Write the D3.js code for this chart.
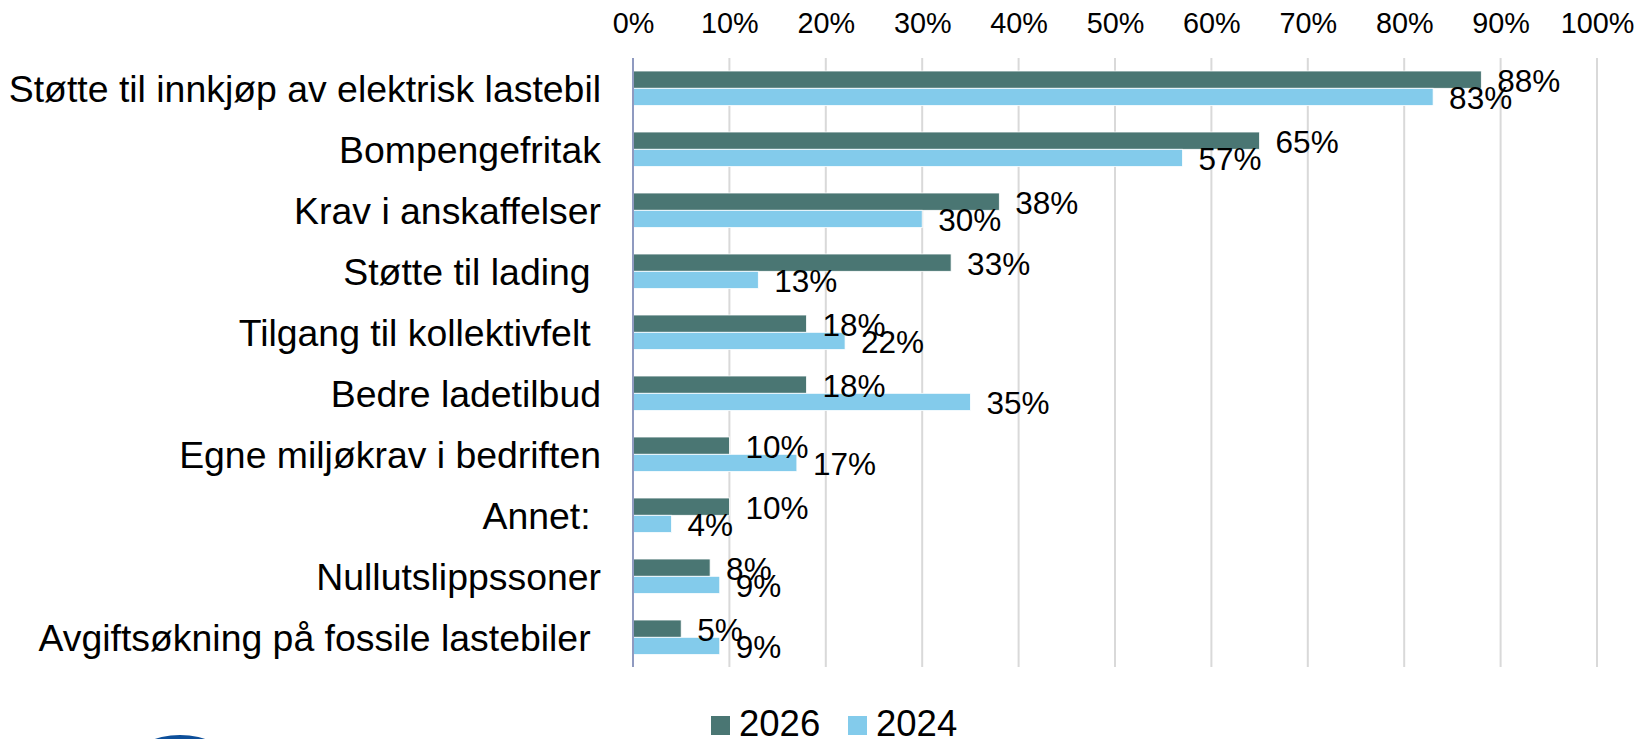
<!DOCTYPE html>
<html>
<head>
<meta charset="utf-8">
<script src="https://cdn.jsdelivr.net/npm/d3@7/dist/d3.min.js"></script>
<style>
  html, body { margin: 0; padding: 0; background: #ffffff; }
  svg { display: block; }
  text { font-family: "Liberation Sans", Arial, sans-serif; fill: #000; }
</style>
</head>
<body>
<svg id="chart" width="1638" height="739"></svg>
<script>
const categories = [
  "Støtte til innkjøp av elektrisk lastebil",
  "Bompengefritak",
  "Krav i anskaffelser",
  "Støtte til lading ",
  "Tilgang til kollektivfelt ",
  "Bedre ladetilbud",
  "Egne miljøkrav i bedriften",
  "Annet: ",
  "Nullutslippssoner",
  "Avgiftsøkning på fossile lastebiler "
];
const seriesNames = ["2026", "2024"];
const values2026 = [88, 65, 38, 33, 18, 18, 10, 10, 8, 5];
const values2024 = [83, 57, 30, 13, 22, 35, 17, 4, 9, 9];
const tickValues = [0, 10, 20, 30, 40, 50, 60, 70, 80, 90, 100];

const colors = { "2026": "#4a7673", "2024": "#83cbeb" };

const svg = d3.select("#chart");

const x = d3.scaleLinear().domain([0, 100]).range([633, 1597]);
const y = d3.scaleBand().domain(categories).range([57.8, 667.8]).paddingInner(0).paddingOuter(0);
const barH = 17.3;

// gridlines
svg.append("g").selectAll("line").data(tickValues.filter(d => d > 0)).join("line")
  .attr("x1", d => x(d)).attr("x2", d => x(d))
  .attr("y1", 58).attr("y2", 667)
  .attr("stroke", "#d9d9d9").attr("stroke-width", 2);

// top axis labels
const xAxis = d3.axisTop(x).tickValues(tickValues).tickFormat(d => d + "%").tickSize(0).tickPadding(0);
const ax = svg.append("g").attr("transform", "translate(0,33)").call(xAxis);
ax.select(".domain").remove();
ax.selectAll("text").attr("font-size", 28.8).attr("font-family", '"Liberation Sans", Arial, sans-serif').attr("fill", "#000").attr("dy", 0);

// bars
const rows = categories.map((c, i) => ({ c, v: [values2026[i], values2024[i]] }));
const gBars = svg.append("g");
rows.forEach(r => {
  const yc = y(r.c) + y.bandwidth() / 2;
  r.v.forEach((v, j) => {
    const top = yc - barH + j * barH;
    gBars.append("rect")
      .attr("x", x(0)).attr("y", top)
      .attr("width", x(v) - x(0)).attr("height", barH)
      .attr("fill", colors[seriesNames[j]])
      .attr("stroke", "#ffffff").attr("stroke-width", 0.8);
  });
});

// vertical axis line
svg.append("line")
  .attr("x1", x(0)).attr("x2", x(0)).attr("y1", 58).attr("y2", 667)
  .attr("stroke", "#8f9ac0").attr("stroke-width", 2);

// data labels
rows.forEach(r => {
  const yc = y(r.c) + y.bandwidth() / 2;
  r.v.forEach((v, j) => {
    const cy = yc - barH / 2 + j * barH + 1.5;
    svg.append("text")
      .attr("x", x(v) + 16).attr("y", cy)
      .attr("dominant-baseline", "central")
      .attr("font-size", 31.5)
      .text(v + "%");
  });
});

// category labels
svg.append("g").selectAll("text").data(categories).join("text")
  .attr("x", 601)
  .attr("y", d => y(d) + y.bandwidth() / 2 + 1)
  .attr("text-anchor", "end")
  .attr("dominant-baseline", "central")
  .attr("font-size", 37.4)
  .style("white-space", "pre")
  .text(d => d);

// legend
const legend = svg.append("g");
const legendItems = [
  { name: "2026", sx: 711, tx: 739 },
  { name: "2024", sx: 848, tx: 876 }
];
legendItems.forEach(it => {
  legend.append("rect").attr("x", it.sx).attr("y", 716).attr("width", 19).attr("height", 19)
    .attr("fill", colors[it.name]);
  legend.append("text").attr("x", it.tx).attr("y", 736).attr("font-size", 36.5).text(it.name);
});

// logo fragment at bottom-left (cut off)
svg.append("ellipse").attr("cx", 180).attr("cy", 762).attr("rx", 48).attr("ry", 27)
  .attr("fill", "#0d4f9a");
</script>
</body>
</html>
